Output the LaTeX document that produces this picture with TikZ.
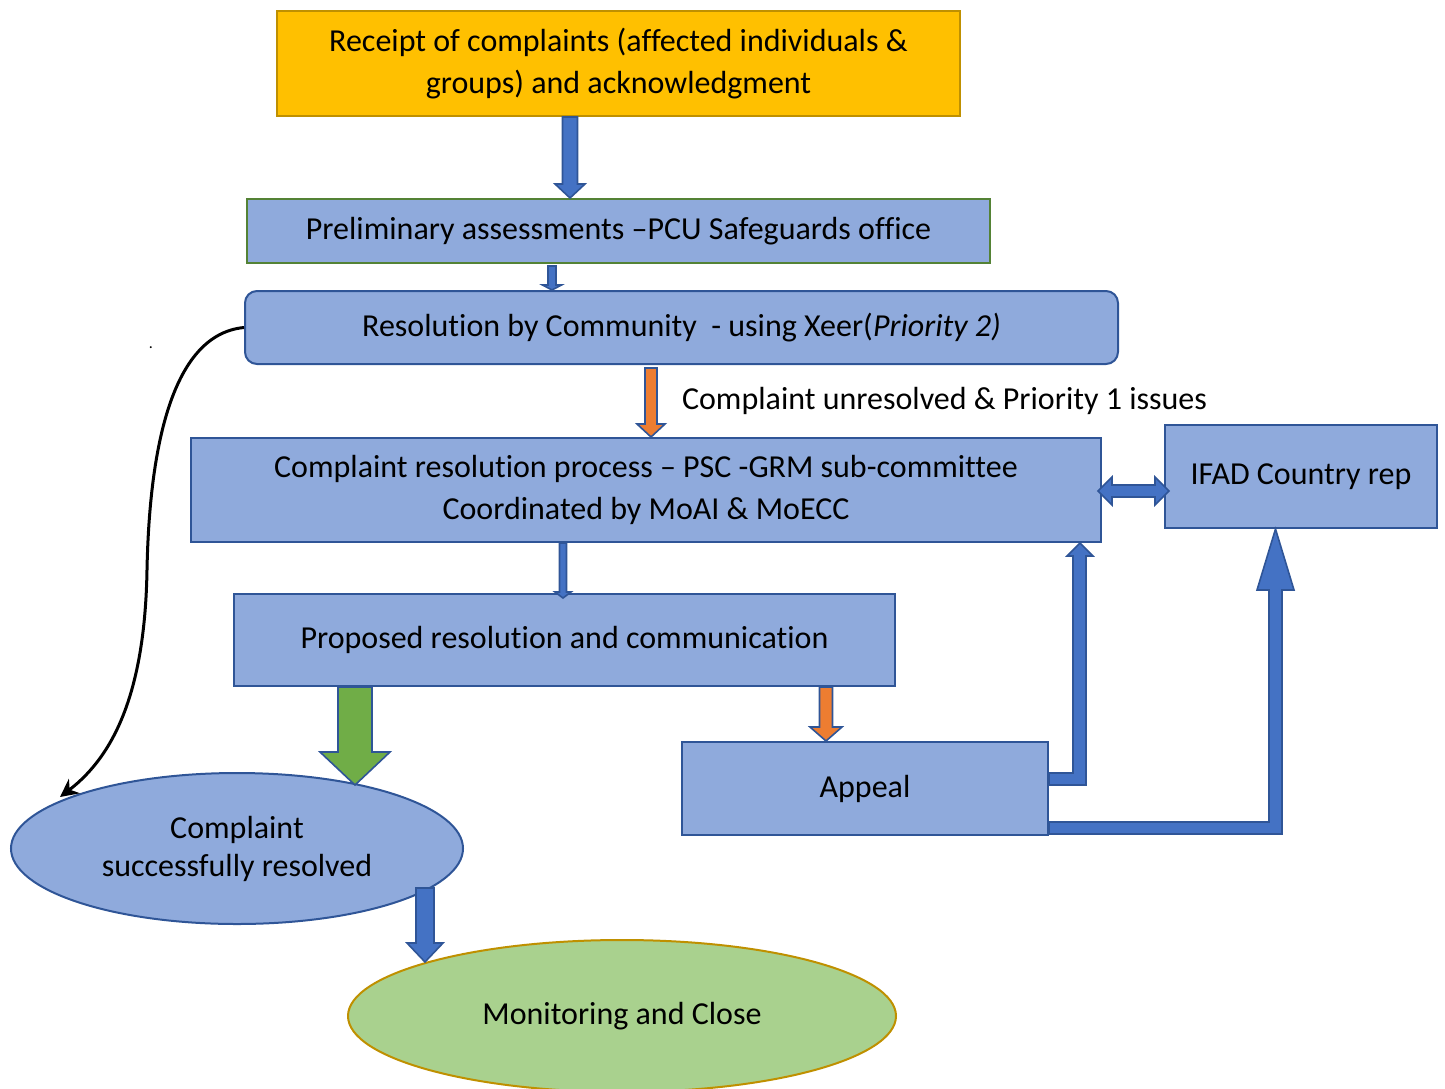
\documentclass[tikz,border=0pt]{standalone}
\usepackage{fontspec}
\setmainfont{Carlito}[Ligatures=NoCommon]
\usetikzlibrary{calc,arrows.meta,shapes.geometric}

\definecolor{boxfill}{HTML}{8FAADC}
\definecolor{boxline}{HTML}{2F5597}
\definecolor{gold}{HTML}{FFC000}
\definecolor{goldline}{HTML}{BF9000}
\definecolor{greenline}{HTML}{548235}
\definecolor{arrblue}{HTML}{4472C4}
\definecolor{arrorange}{HTML}{ED7D31}
\definecolor{arrgreen}{HTML}{70AD47}
\definecolor{closefill}{HTML}{A9D18E}

% downward block arrow: style, start, tip, shaft half-width, head half-width, head length
\newcommand\blockdown[6]{%
  \path[#1] let \p1=(#2), \p2=(#3) in
    (\x1-#4,\y1) -- (\x1+#4,\y1) -- (\x1+#4,\y2+#6) -- (\x1+#5,\y2+#6) --
    (\x1,\y2) -- (\x1-#5,\y2+#6) -- (\x1-#4,\y2+#6) -- cycle;}

\begin{document}
\begin{tikzpicture}[x=0.5pt,y=-0.5pt,
  txt/.style={font=\fontsize{16}{21}\selectfont, align=center, text=black},
  box/.style={txt, draw=boxline, fill=boxfill, line width=1pt, inner sep=0pt},
  oval/.style={box, ellipse, font=\fontsize{16}{19}\selectfont},
  blockblue/.style={fill=arrblue, draw=boxline, line width=0.8pt},
  blockorange/.style={fill=arrorange, draw=boxline, line width=0.8pt},
  blockgreen/.style={fill=arrgreen, draw=boxline, line width=0.8pt},
]
\useasboundingbox (0,0) rectangle (1445,1088);
\clip (0,0) rectangle (1445,1088);

% process boxes
\node[box, fill=gold, draw=goldline, minimum width=341.5pt, minimum height=52.5pt]
  (receipt) at (618.5,63.5) {Receipt of complaints (affected individuals \&\\groups) and acknowledgment};
\node[box, draw=greenline, minimum width=371.5pt, minimum height=32pt]
  (prelim) at (618.5,231) {Preliminary assessments –PCU Safeguards office};
\node[box, rounded corners=6pt, minimum width=436.5pt, minimum height=36.5pt]
  (community) at (681.5,327.5) {Resolution by Community\ \ - using Xeer(\textit{Priority 2)}};
\node[box, minimum width=455pt, minimum height=52pt]
  (psc) at (646,490) {Complaint resolution process – PSC -GRM sub-committee\\Coordinated by MoAI \& MoECC};
\node[box, minimum width=136pt, minimum height=51.5pt]
  (ifad) at (1301,476.5) {IFAD Country rep};
\node[box, minimum width=330.5pt, minimum height=46pt]
  (proposed) at (564.5,640) {Proposed resolution and communication};
\node[box, minimum width=183pt, minimum height=46.5pt]
  (appeal) at (865,788.5) {Appeal};
\node[oval, minimum width=226pt, minimum height=75.5pt]
  (resolved) at (237,848.5) {Complaint\\successfully resolved};
\node[oval, fill=closefill, draw=goldline, minimum width=274pt, minimum height=76pt]
  (close) at (622,1016) {Monitoring and Close};

% labels
\node[txt, anchor=west] (unresolved) at (675,401) {Complaint unresolved \& Priority 1 issues};
\node[font=\fontsize{8}{8}\selectfont, anchor=base] (dot) at (151,348) {.};

% block arrows between the stages
\blockdown{blockblue}{570,0 |- receipt.south}{570,0 |- prelim.north}{3.75pt}{7.5pt}{7pt}
\blockdown{blockblue}{552,266}{552,0 |- community.north}{2pt}{4.75pt}{2.5pt}
\blockdown{blockorange}{651,368}{651,0 |- psc.north}{3pt}{7pt}{6.5pt}
\blockdown{blockblue}{563,0 |- psc.south}{563,598}{1.75pt}{4pt}{3pt}
\blockdown{blockgreen}{355,0 |- proposed.south}{355,785}{8.5pt}{17.5pt}{16.5pt}
\blockdown{blockorange}{826,0 |- proposed.south}{826,0 |- appeal.north}{3.25pt}{8pt}{7pt}
\blockdown{blockblue}{425,888}{425,962}{4.5pt}{9pt}{9.5pt}

% two-way arrow between the committee and the country representative
\path[blockblue] (1098,491) -- (1112,477) -- (1112,485) -- (1155,485) -- (1155,477)
  -- (1169,491) -- (1155,505) -- (1155,497) -- (1112,497) -- (1112,505) -- cycle;

% appeal routes back up
\path[blockblue] (appeal.east |- 0,773) -- (1073,773) -- (1073,556) -- (1067,556)
  -- (1080,0 |- psc.south) -- (1093,556) -- (1086,556) -- (1086,785)
  -- (appeal.east |- 0,785) -- cycle;
\path[blockblue] (appeal.east |- 0,822) -- (1269,822) -- (1269,590) -- (1257,590)
  -- (1275.5,0 |- ifad.south) -- (1294,590) -- (1282,590) -- (1282,834)
  -- (appeal.east |- 0,834) -- cycle;

% direct resolution by the community
\draw[line width=1.5pt, -{Stealth[length=9pt,width=9pt]}]
  (community.west) .. controls (165,335) and (149,470) .. (147,570)
  .. controls (145,690) and (115,755) .. (60,797);
\end{tikzpicture}
\end{document}
